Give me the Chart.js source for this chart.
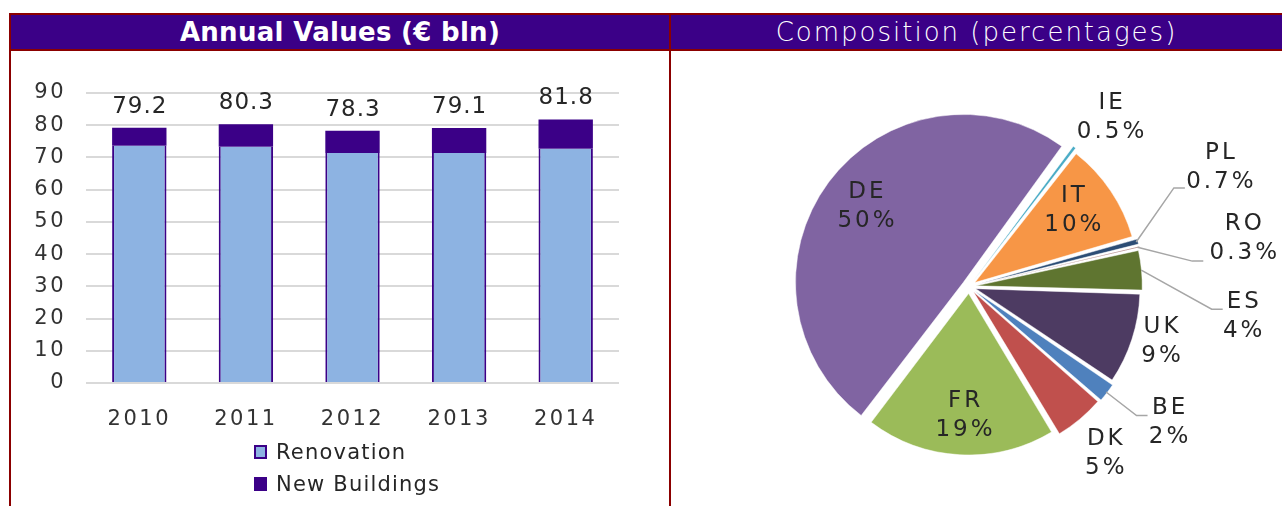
<!DOCTYPE html>
<html>
<head>
<meta charset="utf-8">
<script src="https://cdn.jsdelivr.net/npm/chart.js@4.4.1/dist/chart.umd.min.js"></script>
<style>
  body { margin: 0; width: 1282px; height: 506px; overflow: hidden; background: #fff; position: relative; font-family: "DejaVu Sans", sans-serif; }
  .line { position: absolute; background: #8B0000; }
  .head { position: absolute; top: 15px; height: 34px; background: #3B0087; color: #fff; display: flex; align-items: center; justify-content: center; white-space: nowrap; }
  #headLeft { left: 11px; width: 658px; font-weight: bold; font-size: 26px; letter-spacing: 0.3px; }
  #headRight { left: 671px; width: 611px; font-weight: 200; font-size: 26px; letter-spacing: 2px; }
  canvas { position: absolute; }
  #barChart { left: 11px; top: 51px; }
  #pieChart { left: 671px; top: 51px; }
  #legend { position: absolute; left: 254px; top: 436px; font-size: 21px; letter-spacing: 1.2px; color: #262626; }
  .item { display: flex; align-items: center; height: 32px; }
  .box { width: 13px; height: 14px; box-sizing: border-box; margin-right: 9px; }
</style>
</head>
<body>
<div class="line" style="left:9px;top:13px;width:1273px;height:2px"></div>
<div class="head" id="headLeft">Annual Values (€ bln)</div>
<div class="head" id="headRight">Composition (percentages)</div>
<div class="line" style="left:9px;top:49px;width:1273px;height:2px"></div>
<div class="line" style="left:9px;top:13px;width:2px;height:493px"></div>
<div class="line" style="left:669px;top:13px;width:2px;height:493px"></div>
<canvas id="barChart" width="658" height="455"></canvas>
<canvas id="pieChart" width="611" height="455"></canvas>
<div id="legend"></div>
<script>
// bar chart data
const years = ["2010", "2011", "2012", "2013", "2014"];
const renovation = [73.6, 73.3, 71.4, 71.4, 72.7];
const newBuildings = [5.6, 7.0, 6.9, 7.7, 9.1];
const totals = [79.2, 80.3, 78.3, 79.1, 81.8];
const yTicks = [0, 10, 20, 30, 40, 50, 60, 70, 80, 90];

// pie chart data
const countries = ["BE", "DK", "FR", "DE", "IE", "IT", "PL", "RO", "ES", "UK"];
const shares = [2, 5, 19, 50, 0.5, 10, 0.7, 0.3, 4, 9];
const pieColors = ["#4F81BD", "#C0504D", "#9BBB59", "#8064A2", "#4BACC6",
                   "#F79646", "#2C4D75", "#772C2A", "#5F7530", "#4D3B62"];

// where each pie label sits: share of the radius and turn from the slice middle (deg)
const labelRadius = [1.50, 1.335, 0.80, 0.81, 1.37, 0.80, 1.725, 1.73, 1.71, 1.24];
const labelTurn = [-3.3, 0.7, -0.9, 1.1, 2.8, -2.2, -10.5, 3.1, 11.6, -2.0];
// leader line end, relative to the label centre
const leader = [[-21, -7], null, null, null, null, null, [-35, 20.5], [-40, 23], [-20, -7], null];

const FONT = "'DejaVu Sans'";
Chart.defaults.font.family = FONT;

const spacing = {
  id: "spacing",
  beforeUpdate(chart, args, opts) { chart.ctx.letterSpacing = opts.value || "0px"; },
  beforeDraw(chart, args, opts) { chart.ctx.letterSpacing = opts.value || "0px"; }
};

const totalLabels = {
  id: "totalLabels",
  afterDatasetsDraw(chart) {
    const ctx = chart.ctx;
    const tops = chart.getDatasetMeta(1).data;
    ctx.save();
    ctx.letterSpacing = "1px";
    ctx.font = "23px " + FONT;
    ctx.fillStyle = "#262626";
    ctx.textAlign = "center";
    ctx.textBaseline = "alphabetic";
    tops.forEach((bar, i) => {
      ctx.fillText(totals[i].toFixed(1), bar.x + 0.5, bar.y - 15);
    });
    ctx.restore();
  }
};

const pieLabels = {
  id: "pieLabels",
  afterDatasetsDraw(chart) {
    const ctx = chart.ctx;
    const arcs = chart.getDatasetMeta(0).data;
    ctx.save();
    ctx.font = "23px " + FONT;
    ctx.letterSpacing = "3px";
    ctx.fillStyle = "#262626";
    ctx.textAlign = "center";
    ctx.textBaseline = "middle";
    ctx.strokeStyle = "#A6A6A6";
    ctx.lineWidth = 1.5;
    arcs.forEach((arc, i) => {
      const p = arc.getProps(["x", "y", "startAngle", "endAngle", "outerRadius"], true);
      const mid = (p.startAngle + p.endAngle) / 2;
      const a = mid + labelTurn[i] * Math.PI / 180;
      const lx = p.x + Math.cos(a) * p.outerRadius * labelRadius[i];
      const ly = p.y + Math.sin(a) * p.outerRadius * labelRadius[i];
      if (leader[i]) {
        const sx = p.x + Math.cos(mid) * (p.outerRadius + 12);
        const sy = p.y + Math.sin(mid) * (p.outerRadius + 12);
        const ex = lx + leader[i][0];
        const ey = ly + leader[i][1];
        ctx.beginPath();
        ctx.moveTo(sx, sy);
        ctx.lineTo(ex - 11, ey);
        ctx.lineTo(ex, ey);
        ctx.stroke();
      }
      ctx.fillText(countries[i], lx + 1.5, ly - 14.5);
      ctx.fillText(shares[i] + "%", lx + 1.5, ly + 14.5);
    });
    ctx.restore();
  }
};

const barChart = new Chart(document.getElementById("barChart"), {
  type: "bar",
  data: {
    labels: years,
    datasets: [
      {
        label: "Renovation",
        data: renovation,
        backgroundColor: "#8DB3E2",
        borderColor: "#3B0087",
        borderWidth: { left: 2, right: 2, top: 0, bottom: 0 },
        borderSkipped: false,
        categoryPercentage: 1,
        barPercentage: 0.51
      },
      {
        label: "New Buildings",
        data: newBuildings,
        backgroundColor: "#3B0087",
        borderColor: "#3B0087",
        borderWidth: 0,
        categoryPercentage: 1,
        barPercentage: 0.51
      }
    ]
  },
  options: {
    responsive: false,
    animation: false,
    layout: { padding: { left: 0, right: 50, top: 42, bottom: 77 } },
    scales: {
      x: {
        stacked: true,
        grid: { display: false },
        border: { display: false },
        ticks: { padding: 16, color: "#333", font: { size: 21 } },
        afterFit(s) { s.height = 46; }
      },
      y: {
        stacked: true,
        min: 0,
        max: 90,
        afterBuildTicks(s) { s.ticks = yTicks.map(v => ({ value: v })); },
        ticks: { padding: 20, color: "#333", font: { size: 21 } },
        grid: { color: "#D9D9D9", lineWidth: 2, drawTicks: false },
        border: { display: false },
        afterFit(s) { s.width = 75; }
      }
    },
    plugins: {
      legend: { display: false },
      tooltip: { enabled: false },
      spacing: { value: "2.5px" }
    }
  },
  plugins: [spacing, totalLabels]
});

// legend below the bars, one item per line
const legendBox = document.getElementById("legend");
Chart.defaults.plugins.legend.labels.generateLabels(barChart).forEach(item => {
  const row = document.createElement("div");
  row.className = "item";
  const box = document.createElement("span");
  box.className = "box";
  box.style.background = item.fillStyle;
  box.style.border = (item.lineWidth ? 2 : 0) + "px solid " + item.strokeStyle;
  const txt = document.createElement("span");
  txt.textContent = item.text;
  row.appendChild(box);
  row.appendChild(txt);
  legendBox.appendChild(row);
});

const pieChart = new Chart(document.getElementById("pieChart"), {
  type: "pie",
  data: {
    labels: countries,
    datasets: [{
      data: shares,
      backgroundColor: pieColors,
      borderColor: "#fff",
      borderWidth: 0.5,
      offset: 28
    }]
  },
  options: {
    responsive: false,
    animation: false,
    rotation: 124,
    radius: 161,
    layout: { padding: { left: 0, right: 15, top: 16, bottom: 0 } },
    plugins: {
      legend: { display: false },
      tooltip: { enabled: false }
    }
  },
  plugins: [pieLabels]
});
</script>
</body>
</html>
